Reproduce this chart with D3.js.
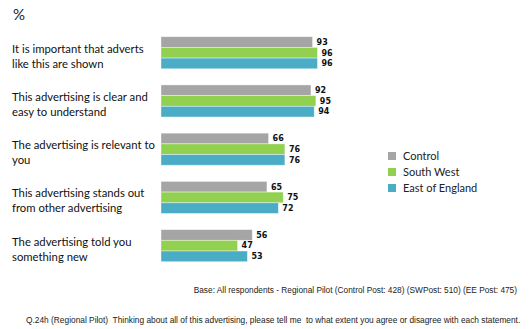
<!DOCTYPE html>
<html><head><meta charset="utf-8">
<script src="https://cdn.jsdelivr.net/npm/d3@7"></script>
<style>body{margin:0;background:#fff}svg{display:block}</style>
</head><body>
<script>
const categories = [
  ["It is important that adverts", "like this are shown"],
  ["This advertising is clear and", "easy to understand"],
  ["The advertising is relevant to", "you"],
  ["This advertising stands out", "from other advertising"],
  ["The advertising told you", "something new"]
];
const seriesNames = ["Control", "South West", "East of England"];
const control = [93, 92, 66, 65, 56];
const southWest = [96, 95, 76, 75, 47];
const eastOfEngland = [96, 94, 76, 72, 53];
const colors = ["#a5a5a5", "#92d050", "#4bacc6"];
const seriesValues = [control, southWest, eastOfEngland];

const W = 529, H = 329;
const svg = d3.select("body").append("svg").attr("width", W).attr("height", H);

const x = d3.scaleLinear().domain([0, 100]).range([161, 324]);
const y = d3.scaleBand().domain(d3.range(categories.length)).range([36.7, 261.7]).paddingInner(0.335).paddingOuter(0);
const ys = d3.scaleBand().domain(d3.range(seriesNames.length)).range([0, y.bandwidth()]);

svg.append("text").attr("x", 13).attr("y", 20).attr("font-family", "Lato, 'Open Sans', sans-serif")
  .attr("font-size", 15).attr("fill", "#222").text("%");

const g = svg.selectAll("g.cat").data(categories).join("g").attr("class", "cat")
  .attr("transform", (d, i) => `translate(0,${y(i)})`);

g.each(function(lines, i) {
  const gg = d3.select(this);
  const cy = y.bandwidth() / 2;
  gg.append("text").attr("x", 12).attr("y", cy).attr("dy", "0.35em")
    .attr("font-family", "Lato, 'Open Sans', sans-serif").attr("font-size", 11.3).attr("fill", "#111")
    .selectAll("tspan").data(lines).join("tspan").attr("x", 12).attr("dy", (d, k) => k === 0 ? 0 : 15).text(d => d);
  seriesValues.forEach((vals, s) => {
    gg.append("rect").attr("x", x(0)).attr("y", ys(s)).attr("width", x(vals[i]) - x(0)).attr("height", ys.bandwidth())
      .attr("fill", colors[s]).attr("stroke", "#ffffff").attr("stroke-opacity", 0.5).attr("stroke-width", 0.8);
    gg.append("text").attr("x", x(vals[i]) + 4).attr("y", ys(s) + ys.bandwidth() / 2).attr("dy", "0.35em")
      .attr("font-family", "'DejaVu Sans', Verdana, sans-serif").attr("font-weight", "bold").attr("font-size", 8)
      .attr("fill", "#111").text(vals[i]);
  });
});

const lg = svg.append("g").attr("transform", "translate(388,152)");
seriesNames.forEach((n, i) => {
  lg.append("rect").attr("x", 0).attr("y", i * 16).attr("width", 8).attr("height", 8).attr("fill", colors[i]);
  lg.append("text").attr("x", 15).attr("y", i * 16 + 4).attr("dy", "0.35em")
    .attr("font-family", "Lato, 'Open Sans', sans-serif").attr("font-size", 11).attr("fill", "#222").text(n);
});

svg.append("text").attr("x", 517).attr("y", 293).attr("text-anchor", "end")
  .attr("font-family", "'Liberation Sans', Arial, sans-serif").attr("font-size", 8.3).attr("fill", "#222")
  .text("Base: All respondents - Regional Pilot (Control Post: 428) (SWPost: 510) (EE Post: 475)");
svg.append("text").attr("x", 26).attr("y", 323)
  .attr("font-family", "'Liberation Sans', Arial, sans-serif").attr("font-size", 8.35).attr("fill", "#222")
  .text("Q.24h (Regional Pilot)  Thinking about all of this advertising, please tell me  to what extent you agree or disagree with each statement.")
  .attr("xml:space", "preserve").style("white-space", "pre");
</script>
</body></html>
